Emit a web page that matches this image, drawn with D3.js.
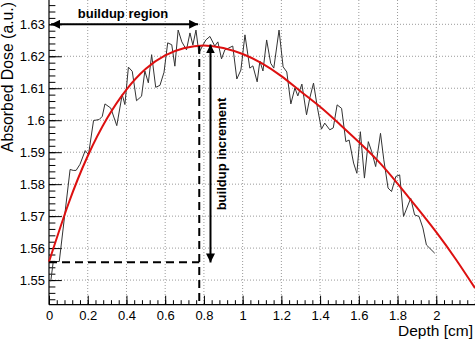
<!DOCTYPE html>
<html>
<head>
<meta charset="utf-8">
<script src="https://cdn.jsdelivr.net/npm/d3@7"></script>
<style>
  html, body { margin: 0; padding: 0; background: #fff; }
  svg { display: block; }
  text { font-family: "Liberation Sans", Arial, Helvetica, sans-serif; fill: #000; }
</style>
</head>
<body>
<svg id="chart" width="475" height="342"></svg>
<script>
// ---------- data ----------
const depth = [0.009,0.022,0.053,0.109,0.125,0.140,0.160,0.187,0.204,0.230,0.259,0.275,0.289,0.319,0.350,0.378,0.392,0.410,0.430,0.452,0.478,0.495,0.513,0.530,0.551,0.573,0.594,0.613,0.634,0.650,0.667,0.686,0.710,0.728,0.743,0.759,0.774,0.795,0.810,0.831,0.856,0.872,0.891,0.908,0.929,0.949,0.970,0.991,1.012,1.037,1.053,1.075,1.089,1.105,1.124,1.145,1.161,1.188,1.209,1.228,1.249,1.270,1.285,1.306,1.330,1.347,1.366,1.386,1.407,1.424,1.450,1.468,1.488,1.511,1.533,1.550,1.573,1.590,1.608,1.629,1.649,1.667,1.687,1.712,1.729,1.751,1.769,1.791,1.811,1.831,1.868,1.888,1.911,1.931,1.949,1.992];
const dose  = [1.5496,1.5558,1.5558,1.5846,1.5843,1.5843,1.5862,1.5905,1.5892,1.5999,1.6002,1.6012,1.6051,1.6038,1.5983,1.6080,1.6049,1.6166,1.6153,1.6061,1.6075,1.6154,1.6117,1.6205,1.6103,1.6109,1.6150,1.6242,1.6236,1.6169,1.6282,1.6245,1.6220,1.6273,1.6235,1.6282,1.6210,1.6235,1.6251,1.6262,1.6232,1.6245,1.6192,1.6220,1.6226,1.6232,1.6129,1.6157,1.6267,1.6163,1.6170,1.6120,1.6185,1.6154,1.6251,1.6178,1.6163,1.6282,1.6167,1.6151,1.6051,1.6101,1.6076,1.6113,1.6017,1.6070,1.6116,1.6040,1.5972,1.5991,1.5970,1.5976,1.6048,1.6037,1.5933,1.5938,1.5866,1.5834,1.5964,1.5819,1.5933,1.5901,1.5855,1.5959,1.5876,1.5788,1.5777,1.5824,1.5829,1.5699,1.5756,1.5704,1.5699,1.5663,1.5610,1.5584];

const fitDepth = [0,0.1,0.2,0.3,0.4,0.5,0.6,0.7,0.8,0.9,1.0,1.1,1.2,1.3,1.4,1.5,1.6,1.7,1.8,1.9,2.0,2.1,2.2];
const fitDose  = [1.5557,1.5738,1.5888,1.6006,1.6096,1.6161,1.6203,1.6226,1.6234,1.6226,1.6207,1.6178,1.6138,1.6090,1.6042,1.5988,1.5932,1.5872,1.5802,1.5727,1.5650,1.5566,1.5475];

const xTicks = [0,0.2,0.4,0.6,0.8,1,1.2,1.4,1.6,1.8,2];
const xTickLabels = ["0","0.2","0.4","0.6","0.8","1","1.2","1.4","1.6","1.8","2"];
const yTicks = [1.55,1.56,1.57,1.58,1.59,1.6,1.61,1.62,1.63];
const yTickLabels = ["1.55","1.56","1.57","1.58","1.59","1.6","1.61","1.62","1.63"];

const regionEnd = 0.770;      // end of buildup-region arrow (cm)
const regionDose = 1.63;      // level of buildup-region arrow
const peakDepth = 0.776;      // dashed vertical
const peakDose = 1.6232;
const surfaceDose = 1.5556;   // dashed horizontal
const incDepth = 0.834;       // increment arrow position
const incTop = 1.6237, incBottom = 1.5555;

// ---------- layout ----------
const svg = d3.select("#chart");
const L = 49, R = 475, T = 0, B = 304.7;
const x = d3.scaleLinear().domain([0, 2.2]).range([L, R]);
const y = d3.scaleLinear().domain([1.5423, 1.6376]).range([B, T]);

// grid
const grid = svg.append("g").attr("stroke", "#9a9a9a").attr("stroke-width", 1).attr("stroke-dasharray", "1,2");
xTicks.concat([2.2]).filter(v => v > 0).forEach(v => {
  grid.append("line").attr("x1", x(v)).attr("x2", x(v)).attr("y1", T).attr("y2", B);
});
yTicks.forEach(v => {
  grid.append("line").attr("x1", L).attr("x2", R).attr("y1", y(v)).attr("y2", y(v));
});

// axes (ticks inside)
const xMinor = d3.range(0, 2.2001, 0.04);
const yMinor = d3.range(1.544, 1.6376, 0.002);
const xAxis = d3.axisBottom(x).tickValues(xMinor).tickSize(-4.5).tickFormat("");
const xAxisMaj = d3.axisBottom(x).tickValues(xTicks).tickSize(-9).tickPadding(6).tickFormat((d,i) => xTickLabels[i]);
const yAxis = d3.axisLeft(y).tickValues(yMinor).tickSize(-6.4).tickFormat("");
const yAxisMaj = d3.axisLeft(y).tickValues(yTicks).tickSize(-12.8).tickPadding(4).tickFormat((d,i) => yTickLabels[i]);

function styleAxis(g) {
  g.select(".domain").remove();
  g.selectAll("line").attr("stroke", "#000").attr("stroke-width", 1);
  g.selectAll("text").style("font-size", "13px");
}
svg.append("g").attr("transform", `translate(0,${B})`).call(xAxis).call(styleAxis);
svg.append("g").attr("transform", `translate(0,${B})`).call(xAxisMaj).call(styleAxis);
svg.append("g").attr("transform", `translate(${L},0)`).call(yAxis).call(styleAxis);
svg.append("g").attr("transform", `translate(${L},0)`).call(yAxisMaj).call(styleAxis);

// axis lines
svg.append("line").attr("x1", L).attr("x2", R).attr("y1", B).attr("y2", B).attr("stroke", "#000").attr("stroke-width", 1.2);
svg.append("line").attr("x1", L).attr("x2", L).attr("y1", T).attr("y2", B).attr("stroke", "#000").attr("stroke-width", 1.2);

// titles
svg.append("text").attr("x", 473).attr("y", 336).attr("text-anchor", "end")
  .style("font-size", "15.5px").text("Depth [cm]");
svg.append("text").attr("transform", "translate(13.3,2) rotate(-90)").attr("text-anchor", "end")
  .style("font-size", "15.8px").text("Absorbed Dose (a.u.)");

// measured data
const pts = depth.map((d, i) => [d, dose[i]]);
svg.append("path").datum(pts)
  .attr("d", d3.line().x(d => x(d[0])).y(d => y(d[1])))
  .attr("fill", "none").attr("stroke", "#333").attr("stroke-width", 1);

// fit
const fitPts = fitDepth.map((d, i) => [d, fitDose[i]]);
svg.append("path").datum(fitPts)
  .attr("d", d3.line().curve(d3.curveNatural).x(d => x(d[0])).y(d => y(d[1])))
  .attr("fill", "none").attr("stroke", "#dd1010").attr("stroke-width", 2);

// annotations
const defs = svg.append("defs");
defs.append("marker").attr("id", "ah").attr("viewBox", "0 0 10 10").attr("refX", 10).attr("refY", 5)
  .attr("markerWidth", 4.5).attr("markerHeight", 4.5).attr("orient", "auto-start-reverse").attr("markerUnits", "strokeWidth")
  .append("path").attr("d", "M0,0 L10,5 L0,10 z").attr("fill", "#000");

svg.append("line").attr("x1", x(0) + 2).attr("x2", x(regionEnd)).attr("y1", y(regionDose)).attr("y2", y(regionDose))
  .attr("stroke", "#000").attr("stroke-width", 2)
  .attr("marker-start", "url(#ah)").attr("marker-end", "url(#ah)");
svg.append("text").attr("x", 123).attr("y", 17.5).attr("text-anchor", "middle")
  .style("font-size", "13px").style("font-weight", "bold").text("buildup region");

svg.append("line").attr("x1", x(peakDepth)).attr("x2", x(peakDepth)).attr("y1", y(peakDose)).attr("y2", B)
  .attr("stroke", "#000").attr("stroke-width", 2).attr("stroke-dasharray", "8,5");
svg.append("line").attr("x1", x(0)).attr("x2", x(peakDepth)).attr("y1", y(surfaceDose)).attr("y2", y(surfaceDose))
  .attr("stroke", "#000").attr("stroke-width", 2).attr("stroke-dasharray", "8,5");

svg.append("line").attr("x1", x(incDepth)).attr("x2", x(incDepth)).attr("y1", y(incTop)).attr("y2", y(incBottom))
  .attr("stroke", "#000").attr("stroke-width", 2)
  .attr("marker-start", "url(#ah)").attr("marker-end", "url(#ah)");
svg.append("text").attr("transform", "translate(226,154) rotate(-90)").attr("text-anchor", "middle")
  .style("font-size", "13px").style("font-weight", "bold").text("buildup increment");
</script>
</body>
</html>
